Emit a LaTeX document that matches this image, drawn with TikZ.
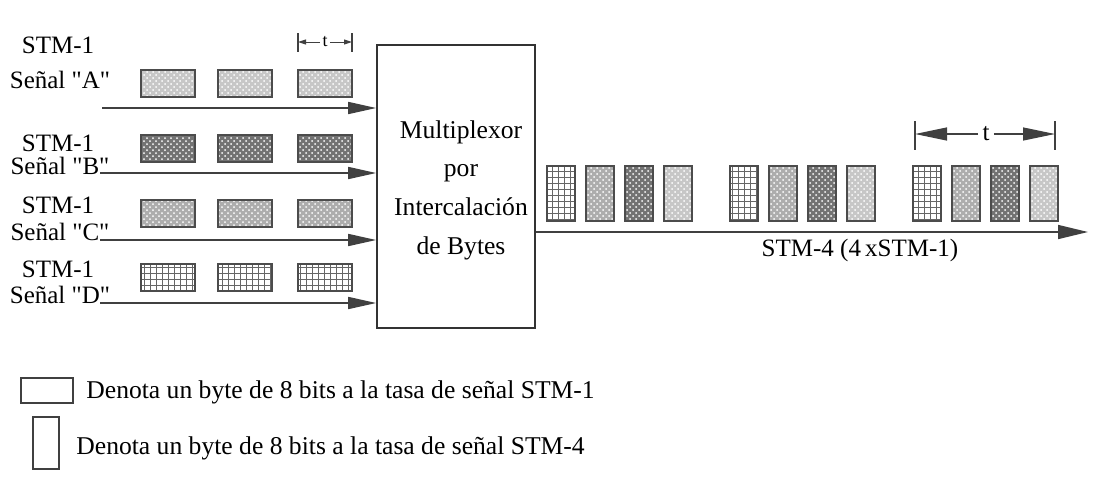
\documentclass[tikz,border=0pt]{standalone}
\usepackage{fontspec}
\setmainfont{Liberation Serif}[Ligatures=TeXOff]
\usetikzlibrary{arrows.meta,patterns}
\tikzset{
  lab/.style={font=\fontsize{12.5}{15}\selectfont,inner sep=0pt},
  legtxt/.style={font=\fontsize{12.8}{15}\selectfont,inner sep=0pt,anchor=west},
  sig/.style={line width=0.8pt,draw=black!75,-{Triangle[length=14pt,width=6pt]}},
  outsig/.style={line width=0.8pt,draw=black!75,-{Triangle[length=15pt,width=7pt]}},
  dimin/.style={line width=0.5pt,draw=black!75,-{Triangle[length=4pt,width=2.5pt]}},
  dimout/.style={line width=0.6pt,draw=black!75,-{Triangle[length=16pt,width=6.5pt]}},
  bytebox/.style={line width=0.9pt,draw=black!70},
  bytA/.style={bytebox,preaction={fill=black!22},pattern=crosshatch dots,pattern color=white},
  bytB/.style={bytebox,preaction={fill=black!55},pattern=crosshatch dots,pattern color=white},
  bytC/.style={bytebox,preaction={fill=black!32},pattern=crosshatch dots,pattern color=white},
  bytD/.style={bytebox,preaction={fill=white},pattern=grid,pattern color=black!60},
  legbox/.style={line width=0.8pt,draw=black!75},
}

\begin{document}
\begin{tikzpicture}[x=0.5pt,y=-0.5pt]
  \useasboundingbox (0,0) rectangle (1097,489);

  % multiplexer block
  \node[draw=black!80,line width=0.8pt,minimum width=79pt,minimum height=141.5pt,inner sep=0pt] (mux) at (456,186.5) {};
  \node[lab,align=center,font=\fontsize{12.8}{19.3}\selectfont] (muxtxt) at (461,190)
    {Multiplexor\\por\\Intercalaci\'on\\de Bytes};

  % input signals
  \node[lab] (stmA) at (58,45) {STM-1};
  \node[lab] (senA) at (60,80) {Se\~nal "A"};
  \node[lab] (stmB) at (58,143) {STM-1};
  \node[lab] (senB) at (60,166) {Se\~nal "B"};
  \node[lab] (stmC) at (58,205) {STM-1};
  \node[lab] (senC) at (60,232) {Se\~nal "C"};
  \node[lab] (stmD) at (58,269) {STM-1};
  \node[lab] (senD) at (60,295) {Se\~nal "D"};

  \coordinate (inA) at (102,108);
  \coordinate (inB) at (100,173);
  \coordinate (inC) at (100,240);
  \coordinate (inD) at (100,303);
  \foreach \s in {A,B,C,D}
    \draw[sig] (in\s) -- (in\s -| mux.west);

  % STM-1 bytes
  \foreach \s/\yt in {A/70,B/135,C/200,D/264}
    \foreach \xl in {141,218,298}
      \draw[byt\s] (\xl,\yt) rectangle ++(54,27);

  % t (STM-1)
  \coordinate (dL) at (298,42);
  \coordinate (dR) at (352,42);
  \draw[line width=0.6pt,black!75] (298,33) -- (298,52) (352,33) -- (352,52);
  \node[font=\fontsize{9}{10}\selectfont,inner sep=1pt] (tin) at (325,42) {t};
  \draw[dimin] (tin) -- (dL);
  \draw[dimin] (tin) -- (dR);

  % STM-4 output
  \coordinate (outEnd) at (1088,232);
  \draw[outsig] (outEnd -| mux.east) -- (outEnd);
  \node[lab] (outlab) at (860,250) {STM-4 (4\,xSTM-1)};
  \foreach \xg in {547,730,913}
    \foreach \s [count=\k from 0] in {D,C,B,A}
      \draw[byt\s] (\xg+39*\k,166) rectangle ++(28,55);

  % t (STM-4)
  \coordinate (eL) at (915,134);
  \coordinate (eR) at (1055,134);
  \draw[line width=0.8pt,black!75] (915,121) -- (915,150) (1055,121) -- (1055,150);
  \node[lab,inner sep=2pt] (tout) at (986,134) {t};
  \draw[dimout] (tout) -- (eL);
  \draw[dimout] (tout) -- (eR);

  % legend
  \draw[legbox] (21,378) rectangle (73,403);
  \node[legtxt] (leg1) at (86,392) {Denota un byte de 8 bits a la tasa de se\~nal STM-1};
  \draw[legbox] (33,417) rectangle (59,469);
  \node[legtxt] (leg2) at (76,448) {Denota un byte de 8 bits a la tasa de se\~nal STM-4};
\end{tikzpicture}
\end{document}
